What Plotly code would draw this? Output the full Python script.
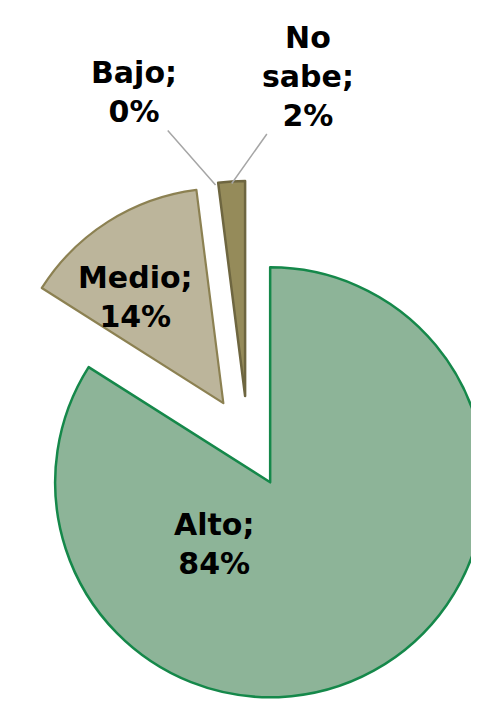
import math
import plotly.graph_objects as go

# ---- data ----
labels = ["Alto", "Medio", "Bajo", "No sabe"]
values = [84, 14, 0, 2]

# ---- styles ----
fill_colors = ["#8DB498", "#BCB59B", "#A39B72", "#958B5A"]
line_colors = ["#15884A", "#8C8152", "#7A7046", "#6E6640"]
line_widths = [2.5, 2.2, 2.2, 2.5]

W, H = 479, 711
R = 215          # slice radius in px
EXPLODE = 46     # explode distance in px
CX, CY = 240.0, 434.0   # centre of the (un-exploded) pie in px

FONT = dict(family="DejaVu Sans", size=30, color="black")

fig = go.Figure()
total = sum(values)
geom = []
cum = 0.0
for i, v in enumerate(values):
    start = cum / total * 2 * math.pi
    cum += v
    end = cum / total * 2 * math.pi
    mid = (start + end) / 2
    ax_ = CX + EXPLODE * math.sin(mid)
    ay_ = CY - EXPLODE * math.cos(mid)
    geom.append((ax_, ay_, start, end, mid))
    if v <= 0:
        continue
    colors = [fill_colors[j] if j == i else "rgba(0,0,0,0)" for j in range(len(values))]
    lcols = [line_colors[j] if j == i else "rgba(0,0,0,0)" for j in range(len(values))]
    lwids = [line_widths[j] if j == i else 0 for j in range(len(values))]
    fig.add_trace(go.Pie(
        labels=labels, values=values, sort=False, direction="clockwise", rotation=0,
        marker=dict(colors=colors, line=dict(color=lcols, width=lwids)),
        textinfo="none", hoverinfo="skip", showlegend=False,
        domain=dict(x=[max(0, (ax_ - R) / W), min(1, (ax_ + R) / W)],
                    y=[max(0, 1 - (ay_ + R) / H), min(1, 1 - (ay_ - R) / H)]),
    ))


def label_text(i):
    pct = round(values[i] / total * 100)
    name = labels[i].replace(" ", "<br>")
    return f"<b>{name};<br>{pct}%</b>"


def to_paper(px, py):
    return px / W, 1 - py / H


annotations = []
# inside labels (Alto, Medio): offset from each slice apex
inside_offsets = {0: (-56, 62), 1: (-88, -106)}
for i, (dx, dy) in inside_offsets.items():
    ax_, ay_ = geom[i][0], geom[i][1]
    x, y = to_paper(ax_ + dx, ay_ + dy)
    annotations.append(dict(x=x, y=y, xref="paper", yref="paper", text=label_text(i),
                            showarrow=False, font=FONT, xanchor="center", yanchor="middle"))

# outside labels with leader lines (Bajo, No sabe)
outside = {2: ((126, 84), 0.0), 3: ((300, 68), 0.5)}
for i, ((tx, ty), frac) in outside.items():
    ax_, ay_, start, end, mid = geom[i]
    ang = start + (end - start) * frac
    px = ax_ + (R - 2) * math.sin(ang)
    py = ay_ - (R - 2) * math.cos(ang)
    x, y = to_paper(px, py)
    annotations.append(dict(x=x, y=y, xref="paper", yref="paper", text=label_text(i),
                            showarrow=True, arrowhead=0, arrowwidth=1.5, arrowcolor="#A6A6A6",
                            ax=tx - px, ay=ty - py, font=FONT, standoff=0))

fig.update_layout(
    width=W, height=H, margin=dict(l=0, r=0, t=0, b=0),
    paper_bgcolor="white", plot_bgcolor="white",
    annotations=annotations, showlegend=False,
)

fig.write_html("out.html")
